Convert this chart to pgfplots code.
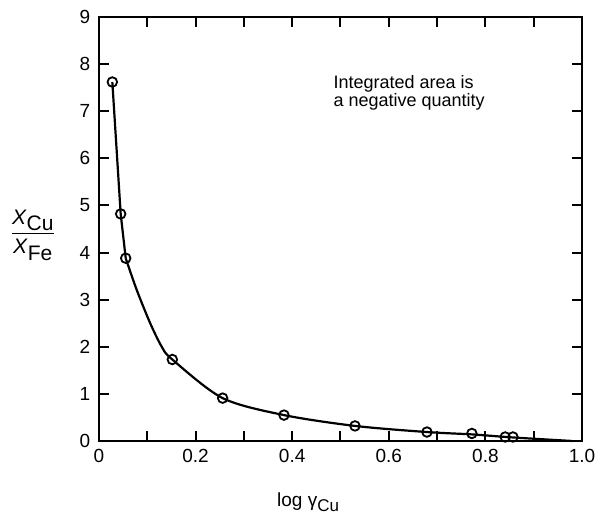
\documentclass[border=0pt]{standalone}
\usepackage{fontspec}
\setmainfont{Liberation Sans}
\usepackage{amsmath}
\usepackage{pgfplots}
\pgfplotsset{compat=1.18}

\begin{document}
\fontsize{9.5}{9.5}\selectfont
\begin{tikzpicture}
\useasboundingbox (-49.5pt,-39pt) rectangle (248pt,220.5pt);
\begin{axis}[scale only axis, width=241.5pt, height=212pt,
  xmin=0, xmax=1, ymin=0, ymax=9,
  axis line style={line width=1.2pt},
  xtick={0,0.2,0.4,0.6,0.8,1.0}, xticklabels={0,0.2,0.4,0.6,0.8,1.0},
  minor xtick={0.1,0.3,0.5,0.7,0.9},
  ytick={0,1,...,9},
  tick align=inside, tick pos=both,
  major tick length=5pt, minor tick length=5pt,
  every tick/.style={black, line width=1pt},
  /pgf/number format/assume math mode=true,
  tick label style={font=\fontsize{9.5}{9.5}\selectfont},
  xticklabel style={yshift=-1pt},
  yticklabel style={xshift=-1pt},
  xlabel={log γ\raisebox{-0.45ex}{\fontsize{8.5}{8.5}\selectfont Cu}},
  xlabel style={at={(axis description cs:0.433,0)}, anchor=center, yshift=-30.5pt},
  ylabel={\fontsize{10.5}{10.5}\selectfont
    \(\dfrac{\text{\textit{X}\raisebox{-0.55ex}{Cu}}}{\text{\textit{X}\raisebox{-0.55ex}{Fe}}}\)},
  ylabel style={at={(axis description cs:-0.137,0.486)}, rotate=-90, anchor=center},
  clip=false]
% curve: steep straight part, then a smooth tail
\addplot[black, line width=1.1pt, line join=round] coordinates {
  (0.0276,7.62) (0.0449,4.82) (0.0553,3.88)};
\addplot[black, line width=1.1pt, smooth, tension=0.5] coordinates {
  (0.0553,3.88) (0.078,3.21) (0.106,2.50) (0.130,2.00)
  (0.1518,1.73) (0.256,0.91) (0.383,0.55) (0.530,0.32) (0.679,0.19)
  (0.772,0.14) (0.850,0.08) (0.930,0.03) (0.980,0.0)};
% measured points
\addplot[only marks, mark=o, mark size=2.4pt, black, line width=0.9pt,
  mark options={fill=white}] coordinates {
  (0.0276,7.62) (0.0449,4.82) (0.0553,3.88) (0.1518,1.73) (0.256,0.91)
  (0.383,0.55) (0.530,0.32) (0.679,0.19) (0.772,0.16) (0.841,0.085)
  (0.857,0.085)};
\node[anchor=north west, inner sep=0pt, align=left,
  font=\fontsize{9}{9.2}\selectfont] at (axis cs:0.485,7.77)
  {Integrated area is\\a negative quantity};
\end{axis}
\end{tikzpicture}
\end{document}
